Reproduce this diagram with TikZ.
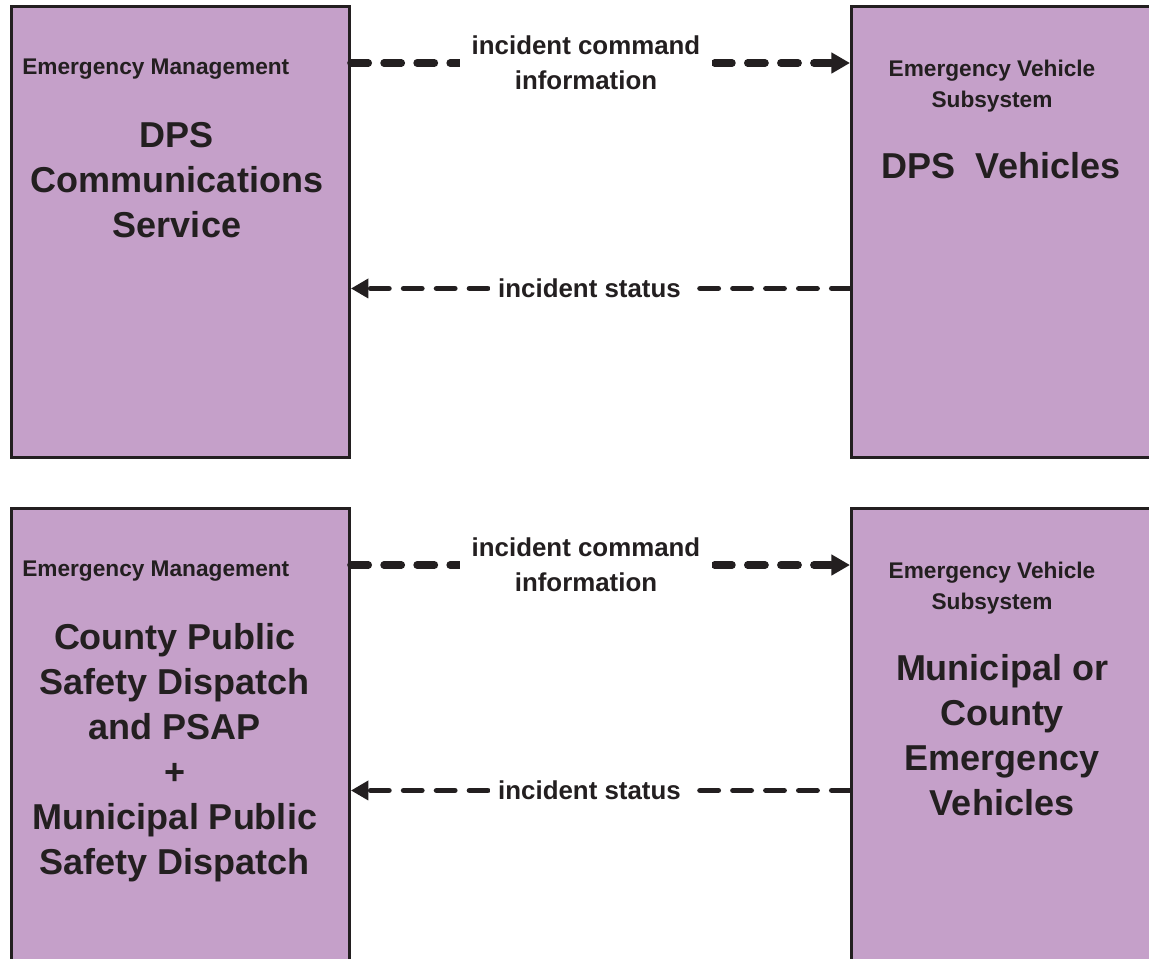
\documentclass[tikz,border=0pt]{standalone}
\usepackage{fontspec}
\setmainfont{Liberation Sans}
\usetikzlibrary{arrows.meta}
\definecolor{boxfill}{RGB}{197,160,201}
\definecolor{ink}{RGB}{35,31,32}
\begin{document}
\begin{tikzpicture}[x=0.75pt,y=-0.75pt,
  box/.style={draw=ink, line width=2.2pt, fill=boxfill, inner sep=0pt, anchor=north west},
  cat/.style={font=\fontsize{17}{23.25}\selectfont\bfseries, text=ink, inner sep=0pt, align=center},
  sysname/.style={font=\fontsize{27}{33.75}\selectfont\bfseries, text=ink, inner sep=0pt, align=center, anchor=base},
  lbl/.style={font=\fontsize{19.4}{26.25}\selectfont\bfseries, text=ink, align=center, fill=white, inner ysep=1pt},
  flowA/.style={draw=ink, line width=5.6pt, line cap=round, dash pattern=on 13pt off 11.8pt},
  flowB/.style={draw=ink, line width=4.2pt, line cap=round, dash pattern=on 13.7pt off 11pt},
  tipA/.style={-{Triangle[length=14pt,width=15pt]}},
  tipB/.style={-{Triangle[length=13pt,width=14pt]}}
]
\useasboundingbox (0,0) rectangle (1149,958);
\fill[white] (0,0) rectangle (1149,958);

% boxes
\node[box, minimum width=253.5pt, minimum height=338.25pt] (em1) at (10,5) {};
\node[box, minimum width=232.5pt, minimum height=338.25pt] (ev1) at (850,5) {};
\node[box, minimum width=253.5pt, minimum height=345pt] (em2) at (10,507) {};
\node[box, minimum width=232.5pt, minimum height=345pt] (ev2) at (850,507) {};

% category labels (anchor base = baseline of last line)
\node[cat, anchor=base west] (em1cat) at (22,74) {Emergency Management};
\node[cat, anchor=base] (ev1cat) at (992,107) {Emergency Vehicle\\Subsystem};
\node[cat, anchor=base west] (em2cat) at (22,576) {Emergency Management};
\node[cat, anchor=base] (ev2cat) at (992,609) {Emergency Vehicle\\Subsystem};

% system names (anchor base = baseline of last line)
\node[sysname] (em1name) at (177,237) {DPS\\Communications\\Service};
\node[sysname] (ev1name) at (1001,178) {DPS\ \ Vehicles};
\node[sysname] (em2name) at (175,874) {County Public\\Safety Dispatch\\and PSAP\\+\\Municipal Public\\Safety Dispatch};
\node[sysname] (ev2name) at (1002,815) {Municipal or\\County\\Emergency\\Vehicles};

% connectors, top pair
\draw[flowA, tipA] ([yshift=-43.5pt]em1.north east) -- ([yshift=-43.5pt]ev1.north west)
  node[lbl, pos=0.471, inner xsep=9pt] (l1) {incident command\\information};
\draw[flowB, tipB] ([yshift=-212.6pt]ev1.north west) -- ([yshift=-212.6pt]em1.north east)
  node[lbl, pos=0.522, inner xsep=6pt] (l2) {incident status};

% connectors, bottom pair
\draw[flowA, tipA] ([yshift=-43.5pt]em2.north east) -- ([yshift=-43.5pt]ev2.north west)
  node[lbl, pos=0.471, inner xsep=9pt] (l3) {incident command\\information};
\draw[flowB, tipB] ([yshift=-212.6pt]ev2.north west) -- ([yshift=-212.6pt]em2.north east)
  node[lbl, pos=0.522, inner xsep=6pt] (l4) {incident status};
\end{tikzpicture}
\end{document}
